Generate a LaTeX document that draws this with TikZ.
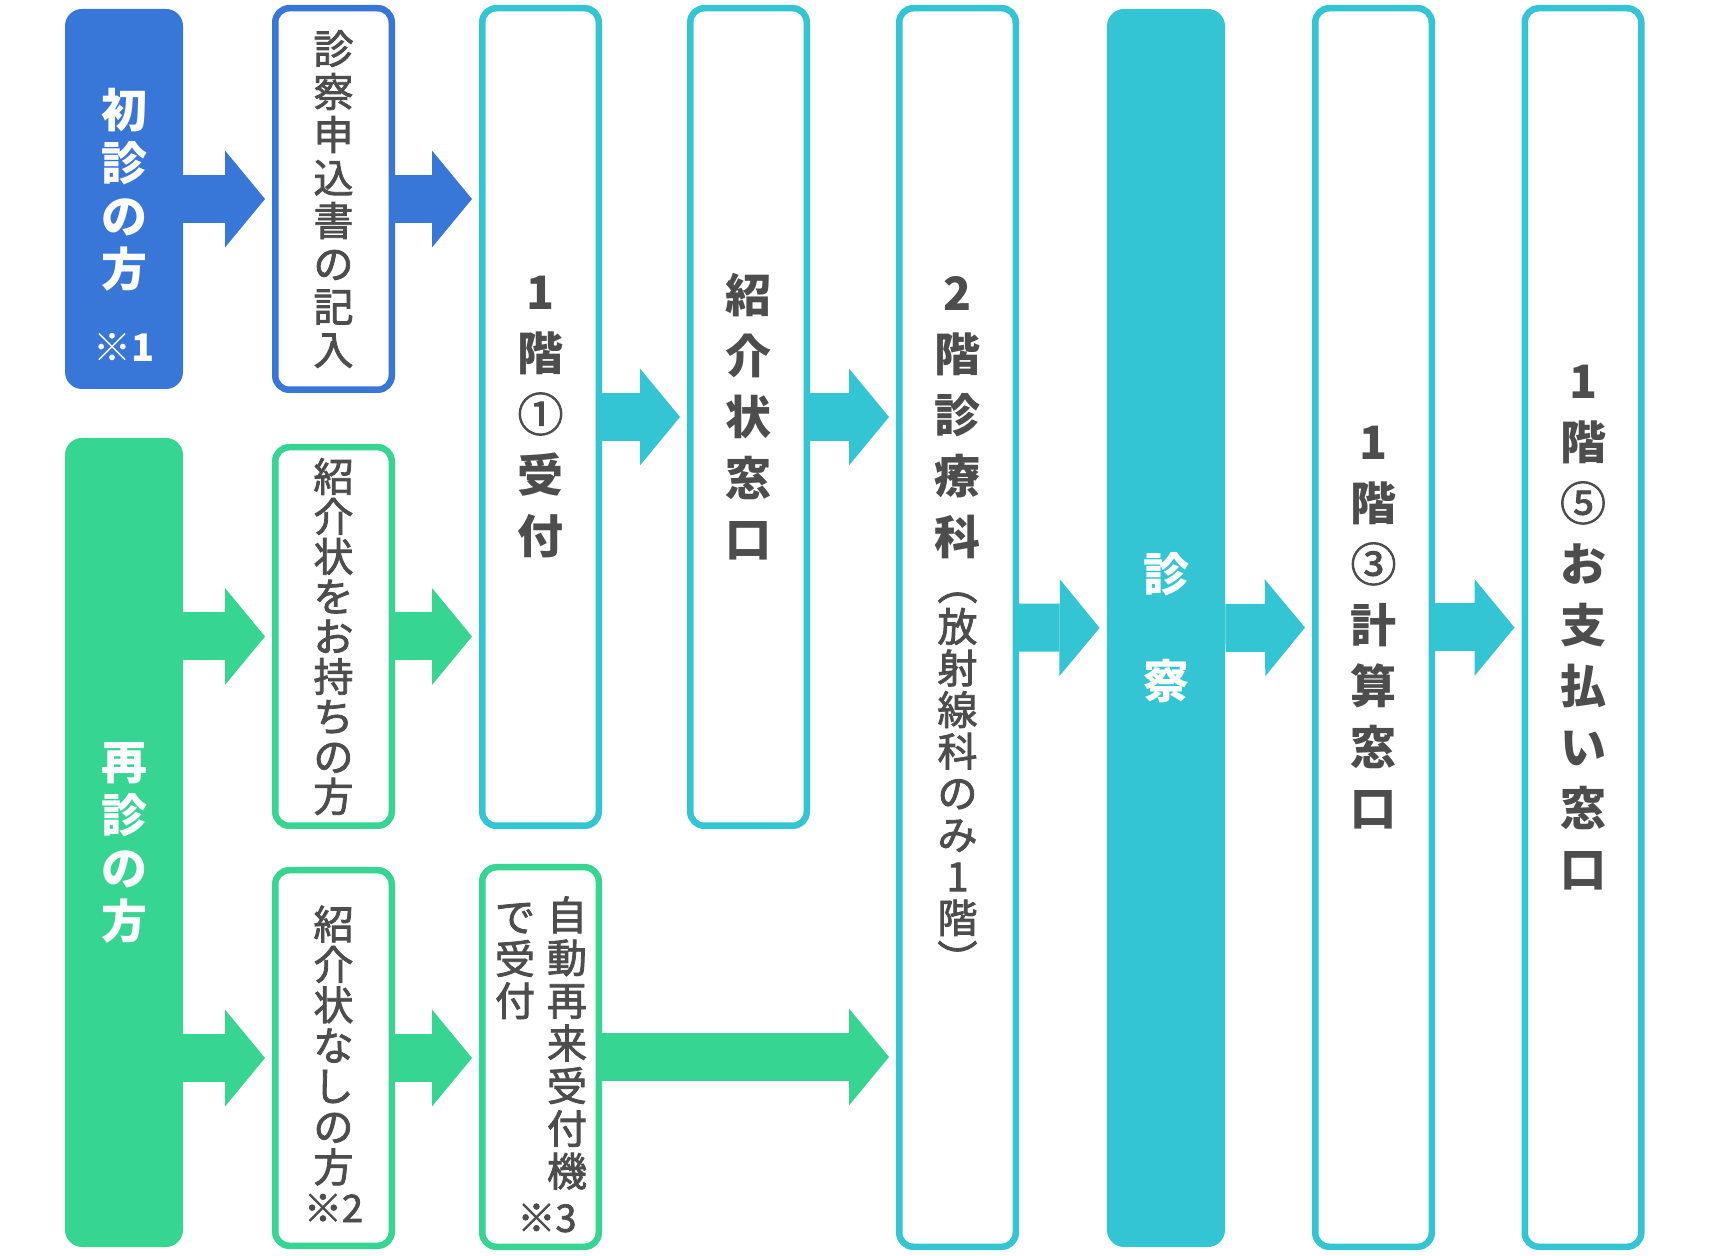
\documentclass[tikz,border=0pt]{standalone}
\usepackage{fontspec}
\setmainfont{Noto Sans CJK JP}
\newfontfamily\jpmid{Noto Sans CJK JP}[FakeBold=2]
\usetikzlibrary{arrows.meta}
\definecolor{blueC}{HTML}{3876D8}
\definecolor{greenC}{HTML}{37D592}
\definecolor{cyanC}{HTML}{34C5D5}
\definecolor{ink}{HTML}{4D4D4D}
\newcommand\circnum[1]{{\jpmid\mdseries #1}}
\tikzset{
  tile/.style     = {rectangle, rounded corners=8.5pt, fill=#1, minimum width=59pt, inner sep=0},
  panel/.style    = {rectangle, rounded corners=7pt, draw=#1, line width=3.25pt, fill=white, minimum width=58.25pt, inner sep=0},
  bigtxt/.style   = {align=center, text=ink, font={\lineskiplimit=-20pt\bfseries\fontsize{23pt}{30.5pt}\selectfont}},
  smalltxt/.style = {align=center, text=ink, font={\lineskiplimit=-20pt\jpmid\fontsize{20pt}{#1}\selectfont}},
  smalltxt/.default = 21pt,
  whitetxt/.style = {align=center, text=white, font={\lineskiplimit=-20pt\bfseries\fontsize{23pt}{26.5pt}\selectfont}},
  note/.style     = {inner sep=0, font=\jpmid\fontsize{19pt}{19pt}\selectfont},
  flow/.style     = {draw=#1, line width=24pt, -{Triangle[length=20pt,width=48.5pt,line width=0pt]}, shorten >=3.5pt}
}
\begin{document}
\begin{tikzpicture}[x=0.5pt,y=-0.5pt]
\useasboundingbox (0,0) rectangle (1710,1256);
% first and return visits
\node[tile=blueC, minimum height=190pt] (first) at (124,199) {};
\node[whitetxt] (firstT) at (124,190) {初\\診\\の\\方};
\node[note, text=white, font=\bfseries\fontsize{19pt}{19pt}\selectfont] (n1) at (124,347) {※1};
\node[tile=greenC, whitetxt, minimum height=404.5pt] (again) at (124,842.5) {再\\診\\の\\方};

% second column
\node[panel=blueC, smalltxt=21.5pt, minimum height=190.75pt] (form) at (333.5,199) {診\\察\\申\\込\\書\\の\\記\\入};
\node[panel=greenC, smalltxt=20pt, minimum height=189.25pt] (haveL) at (333.5,636.5) {紹\\介\\状\\を\\お\\持\\ち\\の\\方};
\node[panel=greenC, minimum height=187.75pt] (noL) at (333.5,1058) {};
\node[smalltxt=20.25pt] (noLT) at (333.5,1045.5) {紹\\介\\状\\な\\し\\の\\方};
\node[note, text=ink] (n2) at (333.5,1208) {※2};

% reception
\node[panel=cyanC, bigtxt, minimum height=408.75pt] (recep) at (540.5,417) {1\\階\\\circnum{①}\\受\\付};
\node[panel=greenC, minimum height=189.75pt] (auto) at (540.5,1057) {};
\node[smalltxt=21.35pt] (autoR) at (567,1043) {自\\動\\再\\来\\受\\付\\機};
\node[smalltxt=21pt] (autoL) at (515,961) {で\\受\\付};
\node[note, text=ink] (n3) at (547,1218) {※3};

% counters
\node[panel=cyanC, bigtxt, minimum height=408.75pt] (intro) at (748.5,417) {紹\\介\\状\\窓\\口};
\node[panel=cyanC, minimum height=619.25pt] (dept) at (957.5,627.5) {};
\node[bigtxt] (deptT) at (957.5,417.5) {2\\階\\診\\療\\科};
\node[smalltxt=20.8pt] (deptN) at (957.5,783.5) {︵\\放\\射\\線\\科\\の\\み\\1\\階\\︶};
\node[tile=cyanC, whitetxt, minimum height=619pt] (exam) at (1166,628) {診\\[27pt]察};
\node[panel=cyanC, bigtxt, minimum height=619.25pt] (calc) at (1373.5,627.5) {1\\階\\\circnum{③}\\計\\算\\窓\\口};
\node[panel=cyanC, bigtxt, minimum height=619.25pt] (pay) at (1583,627.5) {1\\階\\\circnum{⑤}\\お\\支\\払\\い\\窓\\口};

% arrows
\draw[flow=blueC] (first.east) -- (form.west);
\draw[flow=blueC] (form.east) -- (form.east -| recep.west);
\draw[flow=greenC] (again.east |- haveL.west) -- (haveL.west);
\draw[flow=greenC] (again.east |- noL.west) -- (noL.west);
\draw[flow=greenC] (haveL.east) -- (haveL.east -| recep.west);
\draw[flow=greenC] (noL.east) -- (noL.east -| auto.west);
\draw[flow=greenC] (auto.east) -- (auto.east -| dept.west);
\draw[flow=cyanC] (recep.east) -- (intro.west);
\draw[flow=cyanC] (intro.east) -- (intro.east -| dept.west);
\draw[flow=cyanC] (dept.east) -- (exam.west);
\draw[flow=cyanC] (exam.east) -- (calc.west);
\draw[flow=cyanC] (calc.east) -- (pay.west);
\end{tikzpicture}
\end{document}
